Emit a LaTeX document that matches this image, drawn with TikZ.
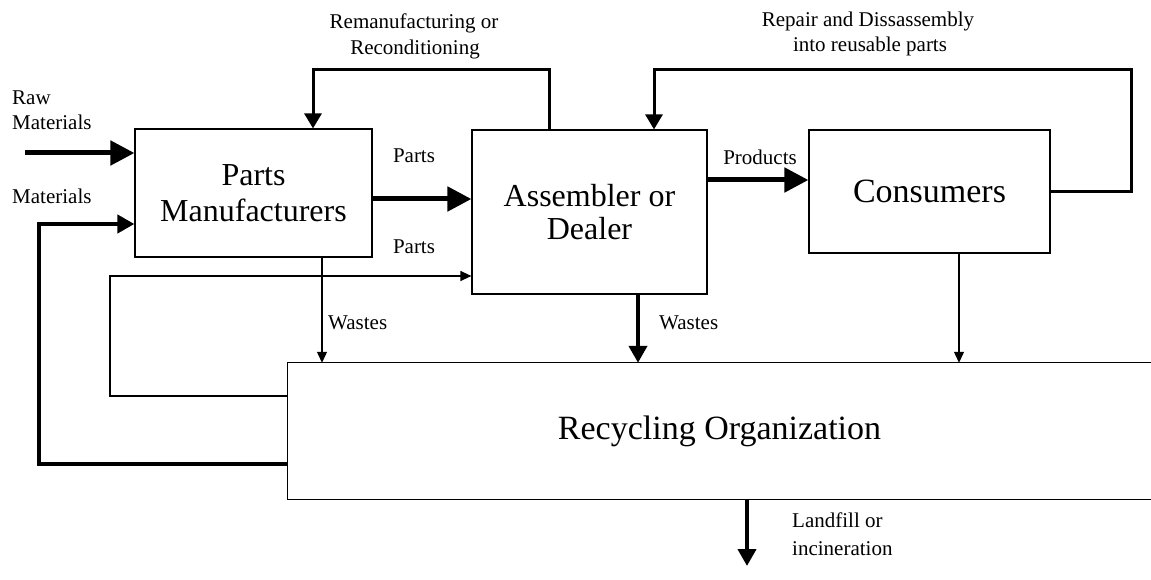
\documentclass[tikz,border=0pt]{standalone}
\usepackage{fontspec}
\setmainfont{Liberation Serif}
\usetikzlibrary{arrows.meta}
\begin{document}
\begin{tikzpicture}[x=1pt,y=-1pt,
  boxline/.style={line width=1.2pt, line join=miter},
  box/.style={draw, boxline, inner sep=0pt, align=center},
  bigtext/.style={font=\fontsize{32}{#1}\selectfont},
  hugetext/.style={font=\fontsize{34}{38}\selectfont},
  lbl/.style={inner sep=0pt, font=\fontsize{21}{25}\selectfont},
  thickarrow/.style={line width=5pt, -{Triangle[length=24pt,width=24pt]}},
  medarrow/.style={line width=4pt, -{Triangle[length=17pt,width=18pt]}},
  looparrow/.style={line width=3pt, line join=miter, -{Triangle[length=15pt,width=17pt]}},
  thinarrow/.style={line width=1.2pt, line join=miter, -{Triangle[length=11pt,width=10pt]}}
]
\useasboundingbox (0,0) rectangle (1151,580);

% main blocks
\node[box, bigtext=36, minimum width=237pt, minimum height=128pt] (pm) at (253.5,193)
  {Parts\\Manufacturers};
\node[box, bigtext=33, minimum width=235pt, minimum height=164pt] (asm) at (589.5,212)
  {Assembler or\\Dealer};
\node[box, hugetext, minimum width=241pt, minimum height=123pt] (con) at (929.5,191.5)
  {Consumers};
% recycling block: open on the right-hand side
\node[inner sep=0pt, minimum width=863pt, minimum height=136pt, hugetext] (rec) at (719.5,431)
  {Recycling Organization};
\draw[boxline] (rec.north east) -- (rec.north west) -- (rec.south west) -- (rec.south east);

% helper coordinates for connector routing
\coordinate (rtop) at (0,70);
\coordinate (xrem) at (549,0);
\coordinate (xremin) at (313,0);
\coordinate (xrep) at (1131,0);
\coordinate (xrepin) at (654,0);
\coordinate (rawin) at (25,153);
\coordinate (yparts) at (0,199);
\coordinate (yprod) at (0,180);
\coordinate (ymat) at (0,464);
\coordinate (xmat) at (39,0);
\coordinate (ymatin) at (0,224);
\coordinate (yloop) at (0,396);
\coordinate (xloop) at (110,0);
\coordinate (yloopin) at (0,276);
\coordinate (xw1) at (322,0);
\coordinate (xw2) at (638,0);
\coordinate (xw3) at (959,0);
\coordinate (xlf) at (747,0);
\coordinate (lfend) at (747,566);

% forward flows
\draw[thickarrow] (rawin) -- (pm.west |- rawin);
\draw[thickarrow] (pm.east |- yparts) -- (asm.west |- yparts);
\draw[thickarrow] (asm.east |- yprod) -- (con.west |- yprod);

% feedback loops
\draw[looparrow] (asm.north -| xrem) -- (xrem |- rtop) -| (pm.north -| xremin);
\draw[looparrow] (con.east) -| (xrep |- rtop) -| (asm.north -| xrepin);
\draw[medarrow] (rec.west |- ymat) -| (xmat |- ymatin) -- (pm.west |- ymatin);
\draw[thinarrow] (rec.west |- yloop) -| (xloop |- yloopin) -- (asm.west |- yloopin);

% wastes
\draw[thinarrow] (pm.south -| xw1) -- (rec.north -| xw1);
\draw[medarrow] (asm.south -| xw2) -- (rec.north -| xw2);
\draw[thinarrow] (con.south -| xw3) -- (rec.north -| xw3);
\draw[medarrow] (rec.south -| xlf) -- (lfend);

% labels
\node[lbl, anchor=base] (remA) at (414,29) {Remanufacturing or};
\node[lbl, anchor=base] (remB) at (415,55) {Reconditioning};
\node[lbl, anchor=base] (repA) at (868,27) {Repair and Dissassembly};
\node[lbl, anchor=base] (repB) at (870,52) {into reusable parts};
\node[lbl, anchor=base west] (rawA) at (12,105) {Raw};
\node[lbl, anchor=base west] (rawB) at (12,130) {Materials};
\node[lbl, anchor=base west] (matl) at (12,204) {Materials};
\node[lbl, anchor=base] (partsA) at (414,163) {Parts};
\node[lbl, anchor=base] (partsB) at (414,253) {Parts};
\node[lbl, anchor=base] (prod) at (760,165) {Products};
\node[lbl, anchor=base west] (wasteA) at (328,329) {Wastes};
\node[lbl, anchor=base west] (wasteB) at (659,329) {Wastes};
\node[lbl, anchor=base west] (lfA) at (792,527) {Landfill or};
\node[lbl, anchor=base west] (lfB) at (792,555) {incineration};
\end{tikzpicture}
\end{document}
